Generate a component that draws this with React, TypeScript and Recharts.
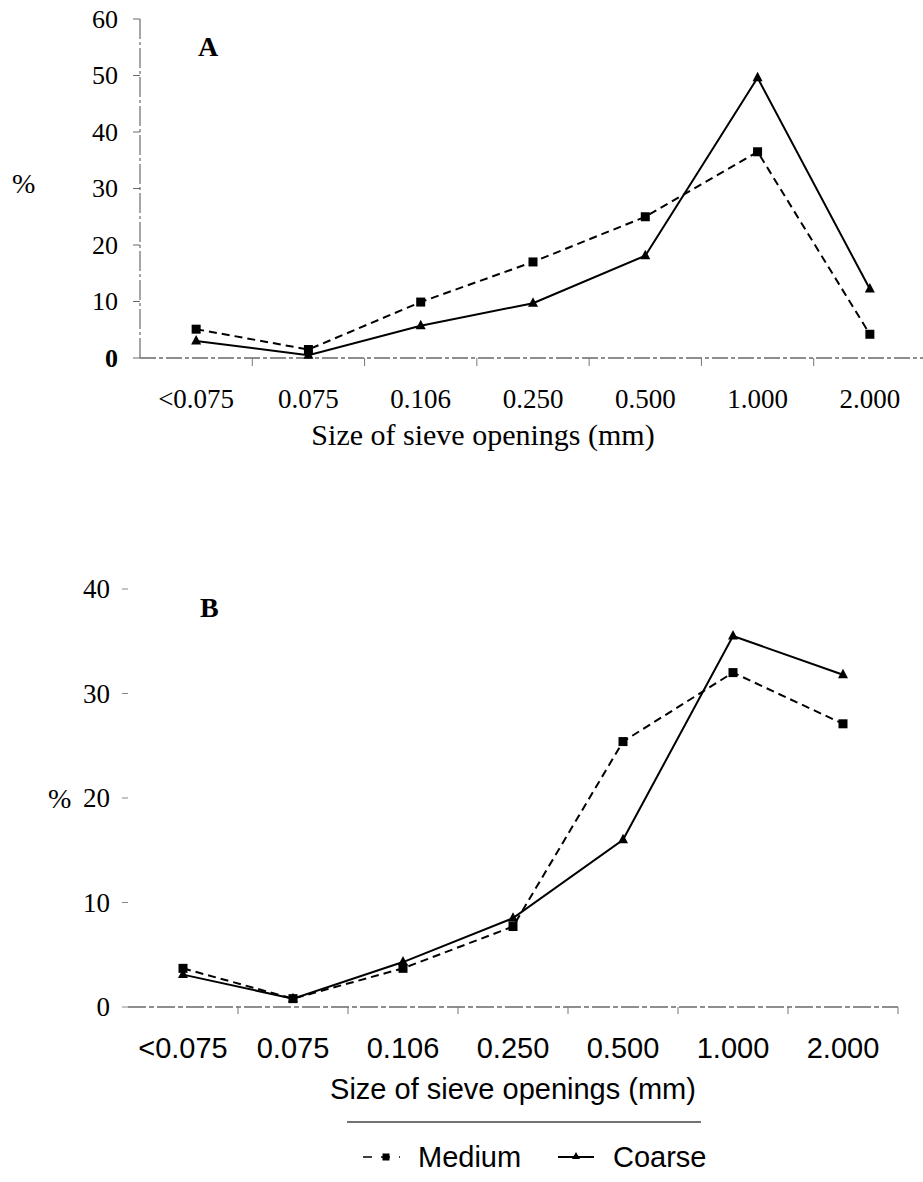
import React from 'react';
import { LineChart, Line, XAxis, YAxis } from 'recharts';

// ---------- data ----------
const categories = ['<0.075', '0.075', '0.106', '0.250', '0.500', '1.000', '2.000'];
const mediumA = [5.1, 1.5, 9.9, 17.0, 25.0, 36.5, 4.2];
const coarseA = [3.0, 0.5, 5.7, 9.7, 18.1, 49.6, 12.2];
const mediumB = [3.7, 0.8, 3.7, 7.7, 25.4, 32.0, 27.1];
const coarseB = [3.1, 0.8, 4.3, 8.5, 16.0, 35.5, 31.8];
const yTicksA = [0, 10, 20, 30, 40, 50, 60];
const yTicksB = [0, 10, 20, 30, 40];
const seriesNames = ['Medium', 'Coarse'];
const xTitle = 'Size of sieve openings (mm)';
const yTitle = '%';
const panelA = 'A';
const panelB = 'B';

const dataA = categories.map((c, i) => ({ cat: c, medium: mediumA[i], coarse: coarseA[i] }));
const dataB = categories.map((c, i) => ({ cat: c, medium: mediumB[i], coarse: coarseB[i] }));

const SERIF = '"Liberation Serif", "Times New Roman", serif';
const SANS = '"Liberation Sans", Arial, sans-serif';

// ---------- markers ----------
const SquareDot = (props: any) => {
  const { cx, cy, index } = props;
  if (cx == null || cy == null) return <g key={`s-${index}`} />;
  return <rect key={`s-${index}`} x={cx - 4.5} y={cy - 4.5} width={9} height={9} fill="#000" />;
};
const TriangleDot = (props: any) => {
  const { cx, cy, index } = props;
  if (cx == null || cy == null) return <g key={`t-${index}`} />;
  return (
    <polygon
      key={`t-${index}`}
      points={`${cx},${cy - 6} ${cx - 5},${cy + 3.5} ${cx + 5},${cy + 3.5}`}
      fill="#000"
    />
  );
};

// ---------- ticks ----------
function makeXTick(o: { band: number; font: string; size: number; labelDy: number; tickLen: number }) {
  return (props: any) => {
    const { x, y, payload } = props;
    const bx = x + o.band / 2;
    return (
      <g>
        <line x1={bx} x2={bx} y1={y} y2={y + o.tickLen} stroke="#777" strokeWidth={1} />
        <text x={x} y={y + o.labelDy} textAnchor="middle" fontFamily={o.font} fontSize={o.size} fill="#000">
          {payload.value}
        </text>
      </g>
    );
  };
}

function makeYTick(o: { font: string; size: number; boldZero?: boolean }) {
  return (props: any) => {
    const { x, y, payload } = props;
    return (
      <text
        x={x}
        y={y}
        dy="0.34em"
        textAnchor="end"
        fontFamily={o.font}
        fontSize={o.size}
        fontWeight={o.boldZero && payload.value === 0 ? 'bold' : 'normal'}
        fill="#000"
      >
        {payload.value}
      </text>
    );
  };
}

// ---------- axis titles ----------
const XTitleA = (props: any) => {
  const vb = props.viewBox || { x: 0, y: 0, width: 0 };
  return (
    <text x={483} y={vb.y + 87} textAnchor="middle" fontFamily={SERIF} fontSize={30} fill="#000">
      {xTitle}
    </text>
  );
};
const YTitleA = () => (
  <text x={12} y={183} dy="0.34em" fontFamily={SERIF} fontSize={28} fill="#000">
    {yTitle}
  </text>
);

const XTitleB = (props: any) => {
  const vb = props.viewBox || { x: 0, y: 0, width: 0 };
  const cx = vb.x + vb.width / 2;
  return (
    <g>
      <text x={cx} y={vb.y + 92} textAnchor="middle" fontFamily={SANS} fontSize={29} fill="#000">
        {xTitle}
      </text>
      <line x1={347} x2={701} y1={vb.y + 115} y2={vb.y + 115} stroke="#444" strokeWidth={1.5} />
    </g>
  );
};
const YTitleB = () => (
  <text x={48} y={238} dy="0.34em" fontFamily={SERIF} fontSize={28} fill="#000">
    {yTitle}
  </text>
);

export default function App() {
  const axisStroke = '#6a6a6a';
  return (
    <div style={{ position: 'absolute', left: 0, top: 0, width: 923, height: 1182, overflow: 'hidden', background: '#fff' }}>
      {/* Panel A */}
      <div style={{ position: 'absolute', left: 0, top: 0 }}>
        <LineChart width={926} height={470} data={dataA} margin={{ top: 19, right: 0, left: 0, bottom: 0 }}>
          <XAxis
            dataKey="cat"
            scale="band"
            height={112}
            tickSize={0}
            tickMargin={0}
            tickLine={false}
            interval={0}
            axisLine={{ stroke: axisStroke, strokeWidth: 1.3, strokeDasharray: '16 3 4 3' }}
            tick={makeXTick({ band: 786 / 7, font: SERIF, size: 27, labelDy: 50, tickLen: 8 })}
            label={<XTitleA />}
          />
          <YAxis
            width={140}
            domain={[0, 60]}
            ticks={yTicksA}
            interval={0}
            tickSize={7}
            tickMargin={15}
            tickLine={{ stroke: axisStroke }}
            axisLine={{ stroke: axisStroke, strokeWidth: 1.2, strokeDasharray: '20 3 3 3' }}
            tick={makeYTick({ font: SERIF, size: 26, boldZero: true })}
            label={<YTitleA />}
          />
          <Line
            dataKey="medium"
            name={seriesNames[0]}
            stroke="#000"
            strokeWidth={2}
            strokeDasharray="8 5"
            dot={SquareDot}
            isAnimationActive={false}
          />
          <Line
            dataKey="coarse"
            name={seriesNames[1]}
            stroke="#000"
            strokeWidth={2}
            dot={TriangleDot}
            isAnimationActive={false}
          />
          <text x={198} y={56} fontFamily={SERIF} fontWeight="bold" fontSize={28} fill="#000">
            {panelA}
          </text>
        </LineChart>
      </div>

      {/* Panel B */}
      <div style={{ position: 'absolute', left: 0, top: 560 }}>
        <LineChart width={923} height={622} data={dataB} margin={{ top: 29, right: 25, left: 0, bottom: 0 }}>
          <XAxis
            dataKey="cat"
            scale="band"
            height={175}
            tickSize={0}
            tickMargin={0}
            tickLine={false}
            interval={0}
            axisLine={{ stroke: axisStroke, strokeWidth: 1.3, strokeDasharray: '18 3 5 3' }}
            tick={makeXTick({ band: 110, font: SANS, size: 29, labelDy: 51, tickLen: 7 })}
            label={<XTitleB />}
          />
          <YAxis
            width={128}
            domain={[0, 40]}
            ticks={yTicksB}
            interval={0}
            tickSize={6}
            tickMargin={12}
            axisLine={false}
            tickLine={{ stroke: '#888' }}
            tick={makeYTick({ font: SERIF, size: 27 })}
            label={<YTitleB />}
          />
          <Line
            dataKey="medium"
            name={seriesNames[0]}
            stroke="#000"
            strokeWidth={2}
            strokeDasharray="8 5"
            dot={SquareDot}
            isAnimationActive={false}
          />
          <Line
            dataKey="coarse"
            name={seriesNames[1]}
            stroke="#000"
            strokeWidth={2}
            dot={TriangleDot}
            isAnimationActive={false}
          />
          <text x={200} y={57} fontFamily={SERIF} fontWeight="bold" fontSize={28} fill="#000">
            {panelB}
          </text>
          {/* legend */}
          <g>
            <line x1={363} x2={400} y1={597} y2={597} stroke="#000" strokeWidth={1.5} strokeDasharray="9 9" />
            <rect x={382.5} y={593.5} width={7} height={7} fill="#000" />
            <text x={418} y={607} fontFamily={SANS} fontSize={29} fill="#000">{seriesNames[0]}</text>
            <line x1={558} x2={594} y1={597} y2={597} stroke="#000" strokeWidth={1.8} />
            <polygon points="576,592 572,599 580,599" fill="#000" />
            <text x={613} y={607} fontFamily={SANS} fontSize={29} fill="#000">{seriesNames[1]}</text>
          </g>
        </LineChart>
      </div>
    </div>
  );
}
